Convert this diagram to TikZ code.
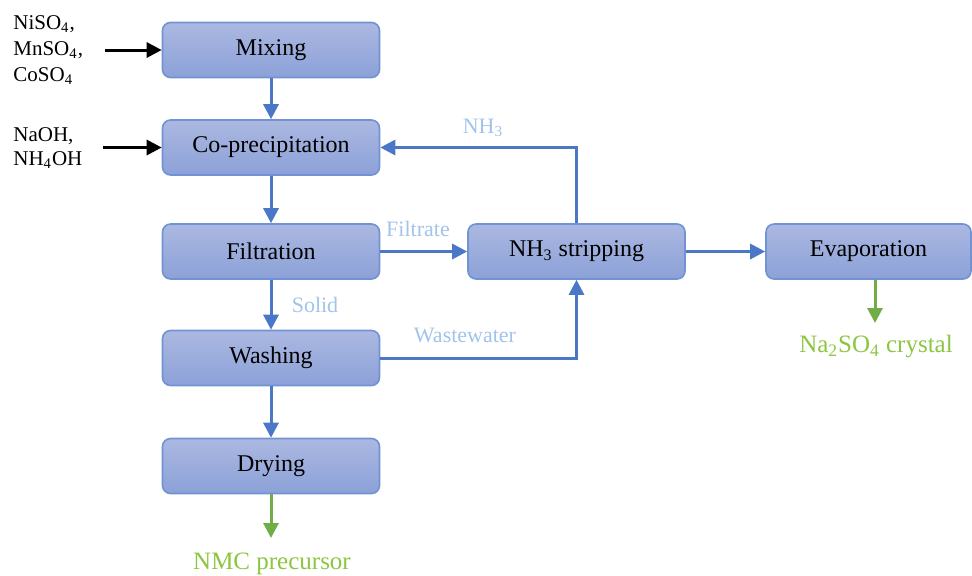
\documentclass[tikz,border=0pt]{standalone}
\usepackage{fontspec}
\setmainfont{Liberation Serif}
\usetikzlibrary{arrows.meta,positioning}
\definecolor{boxtop}{HTML}{ABB8E1}
\definecolor{boxbot}{HTML}{8CA1D8}
\definecolor{boxline}{HTML}{7192D3}
\definecolor{flowblue}{HTML}{4A77C8}
\definecolor{prodgreen}{HTML}{70AD47}
\definecolor{lblblue}{HTML}{A2C3EA}
\definecolor{prodtext}{HTML}{8CC640}

\begin{document}
\begin{tikzpicture}[x=5pt,y=5pt,
  proc/.style={draw=boxline, line width=0.8pt, rounded corners=4pt,
    top color=boxtop, bottom color=boxbot, inner sep=0pt,
    minimum width=108.5pt, minimum height=27.5pt,
    font=\fontsize{12}{14}\selectfont},
  flow/.style={draw=flowblue, line width=1.5pt, -{Triangle[length=7.5pt,width=7.5pt]}},
  feed/.style={draw=black, line width=1.5pt, -{Triangle[length=7.5pt,width=7.5pt]}},
  prod/.style={draw=prodgreen, line width=1.5pt, -{Triangle[length=7.5pt,width=7.5pt]}},
  lbl/.style={text=lblblue, font=\fontsize{11}{13}\selectfont, inner sep=0pt},
  outlbl/.style={text=prodtext, font=\fontsize{12.5}{14}\selectfont, inner sep=0pt},
  inlbl/.style={align=left, anchor=west, inner sep=0pt, font=\fontsize{10.5}{13}\selectfont}]
\useasboundingbox (0,0) rectangle (97.2,-57.5);
% process boxes
\node [proc] (mix) at (27.1,-5.0) {Mixing};
\node [proc] (copre) at (27.1,-14.75) {Co-precipitation};
\node [proc] (filt) at (27.1,-25.15) {Filtration};
\node [proc] (wash) at (27.1,-35.8) {Washing};
\node [proc] (dry) at (27.1,-46.6) {Drying};
\node [proc] (strip) at (57.65,-25.15) {NH\textsubscript{3} stripping};
\node [proc, minimum width=102.5pt] (evap) at (86.85,-25.15) {Evaporation};
% feeds
\node [inlbl] (salts) at (1.3,-5.0) {NiSO\textsubscript{4},\\MnSO\textsubscript{4},\\CoSO\textsubscript{4}};
\node [inlbl, font=\fontsize{10.5}{12}\selectfont] (base) at (1.3,-14.8) {NaOH,\\NH\textsubscript{4}OH};
\coordinate (saltsend) at (10.5,-5.0);
\coordinate (baseend) at (10.3,-14.75);
\draw [feed] (saltsend) -- (mix.west);
\draw [feed] (baseend) -- (copre.west);
% main line
\draw [flow] (mix) -- (copre);
\draw [flow] (copre) -- (filt);
\draw [flow] (filt) -- (wash);
\draw [flow] (wash) -- (dry);
\draw [flow] (filt) -- (strip);
\draw [flow] (wash.east) -| (strip.south);
\draw [flow] (strip.north) |- (copre.east);
\draw [flow] (strip) -- (evap);
% stream labels
\node [lbl] (filtrate) at (41.8,-22.9) {Filtrate};
\node [lbl] (solid) at (31.5,-30.5) {Solid};
\node [lbl] (waste) at (46.5,-33.5) {Wastewater};
\node [lbl] (ammonia) at (48.3,-12.8) {NH\textsubscript{3}};
% products
\coordinate (drytip) at (27.1,-53.8);
\coordinate (evaptip) at (87.5,-32.3);
\draw [prod] (dry.south) -- (drytip);
\draw [prod] (evap.south -| evaptip) -- (evaptip);
\node [outlbl] (nmc) at (27.2,-56.4) {NMC precursor};
\node [outlbl] (nasalt) at (87.6,-34.7) {Na\textsubscript{2}SO\textsubscript{4} crystal};
\end{tikzpicture}
\end{document}
